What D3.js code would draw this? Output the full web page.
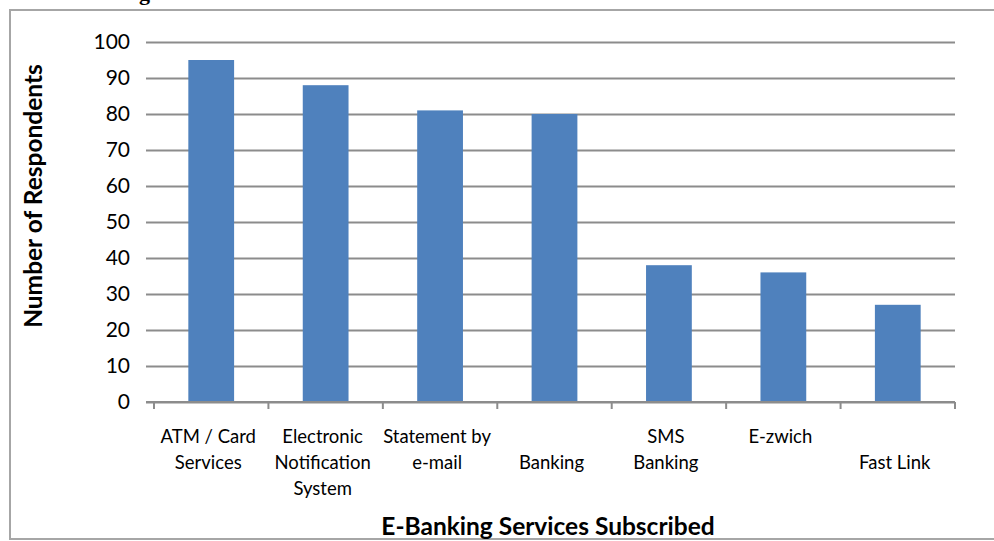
<!DOCTYPE html>
<html>
<head>
<meta charset="utf-8">
<script src="https://cdn.jsdelivr.net/npm/d3@7"></script>
<style>
  html, body { margin: 0; padding: 0; background: #fff; }
  svg { display: block; }
  text { font-family: Lato, "Open Sans", sans-serif; fill: #000; }
</style>
</head>
<body>
<svg id="chart" width="994" height="541"></svg>
<script>
// Survey results: e-banking services subscribed by respondents
const categories = [
  ["ATM / Card", "Services"],
  ["Electronic", "Notification", "System"],
  ["Statement by", "e-mail"],
  ["", "Banking"],
  ["SMS", "Banking"],
  ["E-zwich"],
  ["", "Fast Link"]
];
const respondents = [95, 88, 81, 80, 38, 36, 27];
const yTicks = [0, 10, 20, 30, 40, 50, 60, 70, 80, 90, 100];

const svg = d3.select("#chart");
const margin = { left: 154, right: 39, top: 42, bottom: 139 };
const W = 994, H = 541;
const plotW = W - margin.left - margin.right;
const plotH = H - margin.top - margin.bottom;

// outer frame
svg.append("rect")
  .attr("x", 10).attr("y", 10)
  .attr("width", 1000).attr("height", 529)
  .attr("fill", "none")
  .attr("stroke", "#a6a6a6")
  .attr("stroke-width", 2);

// cut-off caption above the frame
svg.append("text")
  .attr("x", 150).attr("y", 0)
  .attr("text-anchor", "end")
  .style("font-family", "'Liberation Serif', serif")
  .style("font-weight", "bold")
  .style("font-size", "22px")
  .text("ng");

const g = svg.append("g").attr("transform", `translate(${margin.left},${margin.top})`);

const x = d3.scaleBand()
  .domain(d3.range(categories.length))
  .range([0, plotW])
  .paddingInner(0.6)
  .paddingOuter(0.3);

const y = d3.scaleLinear().domain([0, 100]).range([plotH, 0]);

// horizontal gridlines with outward ticks
const yAxis = d3.axisLeft(y)
  .tickValues(yTicks)
  .tickSize(-plotW)
  .tickSizeOuter(0)
  .tickPadding(16)
  .tickFormat(d3.format("d"));

const ya = g.append("g").call(yAxis);
ya.select(".domain").remove();
ya.selectAll(".tick line")
  .attr("x1", -8)
  .attr("stroke", "#8c8c8c")
  .attr("stroke-width", 2);
ya.selectAll(".tick text")
  .style("font-size", "21px")
  .style("font-family", "Lato, sans-serif")
  .attr("fill", "#000")
  .attr("x", -24);

// bars
g.selectAll("rect.bar")
  .data(respondents)
  .join("rect")
  .attr("class", "bar")
  .attr("x", (d, i) => x(i))
  .attr("y", d => y(d))
  .attr("width", x.bandwidth())
  .attr("height", d => y(0) - y(d))
  .attr("fill", "#4f81bd");

// category axis
const xa = g.append("g").attr("transform", `translate(0,${plotH})`);
xa.append("line")
  .attr("x1", -8).attr("x2", plotW)
  .attr("stroke", "#8c8c8c").attr("stroke-width", 2);
const bounds = d3.range(categories.length + 1).map(i => i * plotW / categories.length);
xa.selectAll("line.tk")
  .data(bounds)
  .join("line")
  .attr("class", "tk")
  .attr("x1", d => d).attr("x2", d => d)
  .attr("y1", 0).attr("y2", 7)
  .attr("stroke", "#8c8c8c").attr("stroke-width", 2);

const labels = xa.selectAll("text.cat")
  .data(categories)
  .join("text")
  .attr("class", "cat")
  .attr("text-anchor", "middle")
  .attr("transform", (d, i) => `translate(${x(i) + x.bandwidth() / 2 - 3},41)`)
  .style("font-size", "18.5px");
labels.selectAll("tspan")
  .data(d => d)
  .join("tspan")
  .attr("x", 0)
  .attr("y", (d, j) => j * 26)
  .text(d => d);

// axis titles
svg.append("text")
  .attr("transform", "translate(42,196) rotate(-90)")
  .attr("text-anchor", "middle")
  .style("font-weight", "bold")
  .style("font-size", "24.5px")
  .text("Number of Respondents");

svg.append("text")
  .attr("x", 548).attr("y", 535)
  .attr("text-anchor", "middle")
  .style("font-weight", "bold")
  .style("font-size", "24.5px")
  .text("E-Banking Services Subscribed");
</script>
</body>
</html>
